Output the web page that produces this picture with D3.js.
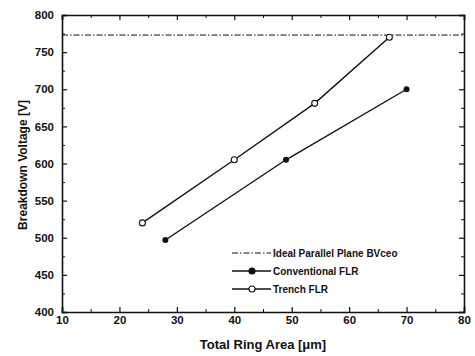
<!DOCTYPE html>
<html><head><meta charset="utf-8">
<script src="https://cdn.jsdelivr.net/npm/d3@7"></script>
<style>body{margin:0;background:#fff}svg{display:block}text{font-family:"Liberation Sans",Arial,sans-serif;font-weight:bold;fill:#111}</style>
</head><body>
<script>
const trenchX = [24, 40, 54, 67];
const trenchY = [520, 605, 681, 770];
const convX = [28, 49, 70];
const convY = [497, 605, 700];
const idealBV = 773;
const xTicks = [10, 20, 30, 40, 50, 60, 70, 80];
const yTicks = [400, 450, 500, 550, 600, 650, 700, 750, 800];
const legendLabels = ["Ideal Parallel Plane BVceo", "Conventional FLR", "Trench FLR"];

const W = 475, H = 356;
const m = {l: 62, r: 11, t: 15, b: 44};
const svg = d3.select("body").append("svg").attr("width", W).attr("height", H);
const x = d3.scaleLinear().domain([10, 80]).range([m.l, W - m.r]);
const y = d3.scaleLinear().domain([400, 800]).range([H - m.b, m.t]);

const minorX = d3.range(15, 80, 10);
const minorY = d3.range(425, 800, 50);

function addAxis(axisFn, scale, ticks, minor, transform, pad) {
  const gMaj = svg.append("g").attr("transform", transform)
    .call(axisFn(scale).tickValues(ticks).tickSize(-5).tickPadding(pad || 0)
      .tickFormat(pad ? d3.format("d") : ""));
  gMaj.select(".domain").attr("stroke", "#111").attr("stroke-width", 1.6);
  gMaj.selectAll(".tick line").attr("stroke", "#111").attr("stroke-width", 1.2);
  gMaj.selectAll("text").style("font-size", "11.5px");
  const gMin = svg.append("g").attr("transform", transform)
    .call(axisFn(scale).tickValues(minor).tickSize(-3).tickFormat(""));
  gMin.select(".domain").remove();
  gMin.selectAll(".tick line").attr("stroke", "#111").attr("stroke-width", 1);
  return gMaj;
}
addAxis(d3.axisBottom, x, xTicks, minorX, `translate(0,${H - m.b})`, 4);
addAxis(d3.axisTop, x, xTicks, minorX, `translate(0,${m.t})`, 0);
addAxis(d3.axisLeft, y, yTicks, minorY, `translate(${m.l},0)`, 8);
addAxis(d3.axisRight, y, yTicks, minorY, `translate(${W - m.r},0)`, 0);

// ideal line
svg.append("line").attr("x1", x(10)).attr("x2", x(80)).attr("y1", y(idealBV)).attr("y2", y(idealBV))
  .attr("stroke", "#111").attr("stroke-width", 1).attr("stroke-dasharray", "6,2,1.5,2");

const line = d3.line().x(d => x(d[0])).y(d => y(d[1]));
const conv = convX.map((v, i) => [v, convY[i]]);
const trench = trenchX.map((v, i) => [v, trenchY[i]]);
svg.append("path").attr("d", line(conv)).attr("fill", "none").attr("stroke", "#111").attr("stroke-width", 1.4);
svg.append("path").attr("d", line(trench)).attr("fill", "none").attr("stroke", "#111").attr("stroke-width", 1.4);
svg.selectAll(".cp").data(conv).enter().append("circle")
  .attr("cx", d => x(d[0])).attr("cy", d => y(d[1])).attr("r", 3).attr("fill", "#111");
svg.selectAll(".tp").data(trench).enter().append("circle")
  .attr("cx", d => x(d[0])).attr("cy", d => y(d[1])).attr("r", 3).attr("fill", "#fff")
  .attr("stroke", "#111").attr("stroke-width", 1.1);

// axis titles
svg.append("text").attr("x", x(45)).attr("y", 349).attr("text-anchor", "middle")
  .style("font-size", "13px").text("Total Ring Area [μm]");
svg.append("text").attr("transform", `translate(27,${y(598)}) rotate(-90)`).attr("text-anchor", "middle")
  .style("font-size", "12px").text("Breakdown Voltage [V]");

// legend
const lg = svg.append("g");
const ly = [253, 271, 289];
lg.append("line").attr("x1", 232).attr("x2", 271).attr("y1", ly[0]).attr("y2", ly[0])
  .attr("stroke", "#111").attr("stroke-width", 1).attr("stroke-dasharray", "6,2,1.5,2");
[1, 2].forEach(i => {
  lg.append("line").attr("x1", 232).attr("x2", 271).attr("y1", ly[i]).attr("y2", ly[i])
    .attr("stroke", "#111").attr("stroke-width", 1.4);
  lg.append("circle").attr("cx", 252).attr("cy", ly[i]).attr("r", 3)
    .attr("fill", i === 1 ? "#111" : "#fff").attr("stroke", "#111").attr("stroke-width", 1.1);
});
legendLabels.forEach((t, i) => {
  lg.append("text").attr("x", 273).attr("y", ly[i]).attr("dy", "0.35em").style("font-size", "10px").text(t);
});
</script>
</body></html>
